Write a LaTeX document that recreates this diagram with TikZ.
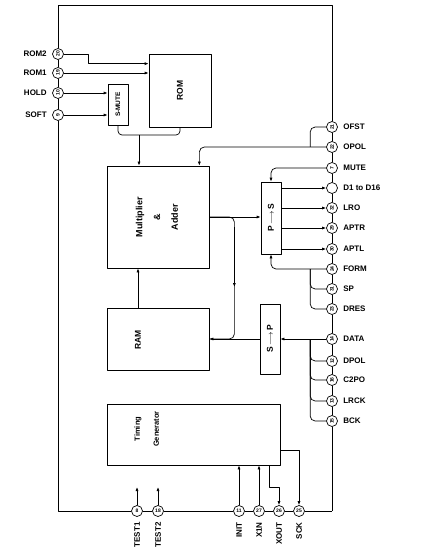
\documentclass[tikz,border=0pt]{standalone}
\usepackage{fontspec}
\setmainfont{Liberation Sans}
\usetikzlibrary{arrows.meta, calc, positioning}
\newcommand{\vtext}[1]{\rotatebox{90}{#1}}

\tikzset{
  term/.style={circle, draw, fill=white, inner sep=0pt, minimum size=11pt, font=\fontsize{5}{5.5}\selectfont\bfseries},
  blk/.style={draw, rectangle, inner sep=0pt, font=\fontsize{8.5}{10}\selectfont\bfseries},
  blktext/.style={inner sep=0pt, font=\fontsize{8.5}{10}\selectfont\bfseries},
  lbl/.style={inner sep=0pt, font=\fontsize{8}{9.6}\selectfont\bfseries},
  arr/.style={-{Latex[length=4pt,width=3pt]}},
}

\begin{document}
\begin{tikzpicture}[x=1pt, y=-1pt, line width=0.7pt, line join=round]
  \useasboundingbox (0,0) rectangle (429,556);

  % Blocks
  \node[blk, minimum width=62pt, minimum height=73pt] (rom) at (180,90.5) {\vtext{ROM}};
  \node[blk, minimum width=20pt, minimum height=41pt, font=\fontsize{6.5}{7}\selectfont\bfseries] (smute) at (118,104.5) {\vtext{S-MUTE}};
  \node[blk, minimum width=102pt, minimum height=102pt, font=\fontsize{9}{10.8}\selectfont\bfseries] (mult) at (158,217)
    {\vtext{\begin{tabular}{@{}c@{}}Multiplier\\[7pt]\&\\[7pt]Adder\end{tabular}}};
  \node[blk, minimum width=20pt, minimum height=72pt] (pts) at (271,218) {\vtext{P\,$\longrightarrow$\,S}};
  \node[blk, minimum width=20pt, minimum height=70pt] (stp) at (270,339) {\vtext{S\,$\longrightarrow$\,P}};
  \node[blk, minimum width=102pt, minimum height=62pt] (ram) at (158,339) {};
  \node[blktext] (ramtext) at (138,340) {\vtext{RAM}};
  \node[blk, minimum width=173pt, minimum height=61pt] (tgen) at (193.5,434.5) {};
  \node[blktext, font=\fontsize{7.5}{9}\selectfont\bfseries] (tgtext) at (147.5,429)
    {\vtext{\begin{tabular}{@{}c@{}}Timing\\[10pt]Generator\end{tabular}}};

  % Pins, left side
  \foreach \n/\num/\txt/\y in {rom2/20/ROM2/54, rom1/19/ROM1/73, hold/10/HOLD/93, soft/9/SOFT/115} {
    \node[term] (\n) at (58,\y) {\vtext{\num}};
    \node[lbl, anchor=east] (\n-l) at (47,\y) {\txt};
  }
  % Pins, right side
  \foreach \n/\num/\txt/\y in {ofst/21/OFST/127, opol/22/OPOL/147, mute/7/MUTE/168, dout//D1 to D16/188,
      lro/32/LRO/208, aptr/29/APTR/228, aptl/30/APTL/249, form/24/FORM/269, spin/31/SP/289,
      dres/23/DRES/309, data/14/DATA/339, dpol/12/DPOL/361, ctpo/16/C2PO/380, lrck/13/LRCK/401, bck/15/BCK/421} {
    \node[term] (\n) at (332,\y) {\vtext{\num}};
    \node[lbl, anchor=west] (\n-l) at (343,\y) {\txt};
  }
  % Pins, bottom
  \foreach \n/\num/\txt/\x in {testa/8/TEST1/137, testb/18/TEST2/158, init/11/INIT/239,
      xin/27/X1N/259, xout/26/XOUT/279, sck/25/SCK/299} {
    \node[term] (\n) at (\x,511) {\num};
    \node[lbl, rotate=90, anchor=east] (\n-l) at (\x,522) {\txt};
  }

  % Outline through the pins
  \coordinate (ctl) at (58,5);
  \coordinate (ctr) at (332,5);
  \coordinate (cbl) at (58,511);
  \coordinate (cbr) at (332,511);
  \draw (rom2) -- (ctl) -- (ctr) -- (ofst);
  \draw (rom2) -- (rom1) -- (hold) -- (soft) -- (cbl) -- (testa) -- (testb) -- (init) -- (xin) -- (xout) -- (sck) -- (cbr);
  \draw (cbr) -- (bck) -- (lrck) -- (ctpo) -- (dpol) -- (data) -- (dres) -- (spin) -- (form)
    -- (aptl) -- (aptr) -- (lro) -- (dout) -- (mute) -- (opol) -- (ofst);

  % ROM and S-MUTE inputs
  \draw[arr] (rom2.east) -- ++(24,0) |- ([yshift=-10pt]rom.north west);
  \draw[arr] (rom1) -- (rom1 -| rom.west);
  \draw[arr] (hold) -- (hold -| smute.west);
  \draw[arr] (soft) -- (soft -| smute.west);

  % Merge into multiplier
  \coordinate (jn) at (139,135);
  \draw[rounded corners=4pt] (smute.south) |- (jn) -| (rom.south);
  \draw[arr] (jn) -- (jn |- mult.north);

  % OFST / OPOL
  \draw[rounded corners=5pt] (ofst.west) -| ($(opol.west)+(-16,0)$);
  \draw[arr, rounded corners=5pt] (opol.west) -| ($(mult.north east)+(-10,0)$);

  % P->S
  \draw[arr, rounded corners=5pt] (mute.west) -| (pts.north);
  \foreach \p in {dout,lro,aptr,aptl}
    \draw[arr] (pts.east |- \p) -- (\p);
  \draw[arr, rounded corners=5pt] (form.west) -| (pts.south);
  \foreach \p in {spin,dres}
    \draw[rounded corners=5pt] (\p.west) -| ($(form.west)+(-16,0)$);

  % S->P
  \draw[arr] (data.west) -- (data -| stp.east);
  \foreach \p in {dpol,ctpo,lrck,bck}
    \draw[rounded corners=5pt] (\p.west) -| ($(data.west)+(-16,0)$);
  \draw[arr] (stp.west) -- (stp.west -| ram.east);

  % Multiplier out, RAM loop
  \draw[arr] (mult.east) -- (mult.east -| pts.west);
  \coordinate (br) at ($(mult.east)+(25,0)$);
  \draw[rounded corners=5pt] (mult.east) -- (br) -- (br |- ram.east) -- (ram.east);
  \draw[arr] ($(br)+(0,10)$) -- ($(br)+(0,70)$);
  \draw[arr] ($(ram.north)+(-20,0)$) -- ($(mult.south)+(-20,0)$);

  % Timing generator
  \foreach \p in {init,xin}
    \draw[arr] (\p) -- (\p |- tgen.south);
  \draw[arr] ($(tgen.south -| xout)+(-10,0)$) |- ++(10,22) -- (xout);
  \draw[arr] ($(tgen.east)+(0,16)$) -| (sck);
  \foreach \p in {testa,testb}
    \draw[arr] (\p) -- ++(0,-24);
\end{tikzpicture}
\end{document}
